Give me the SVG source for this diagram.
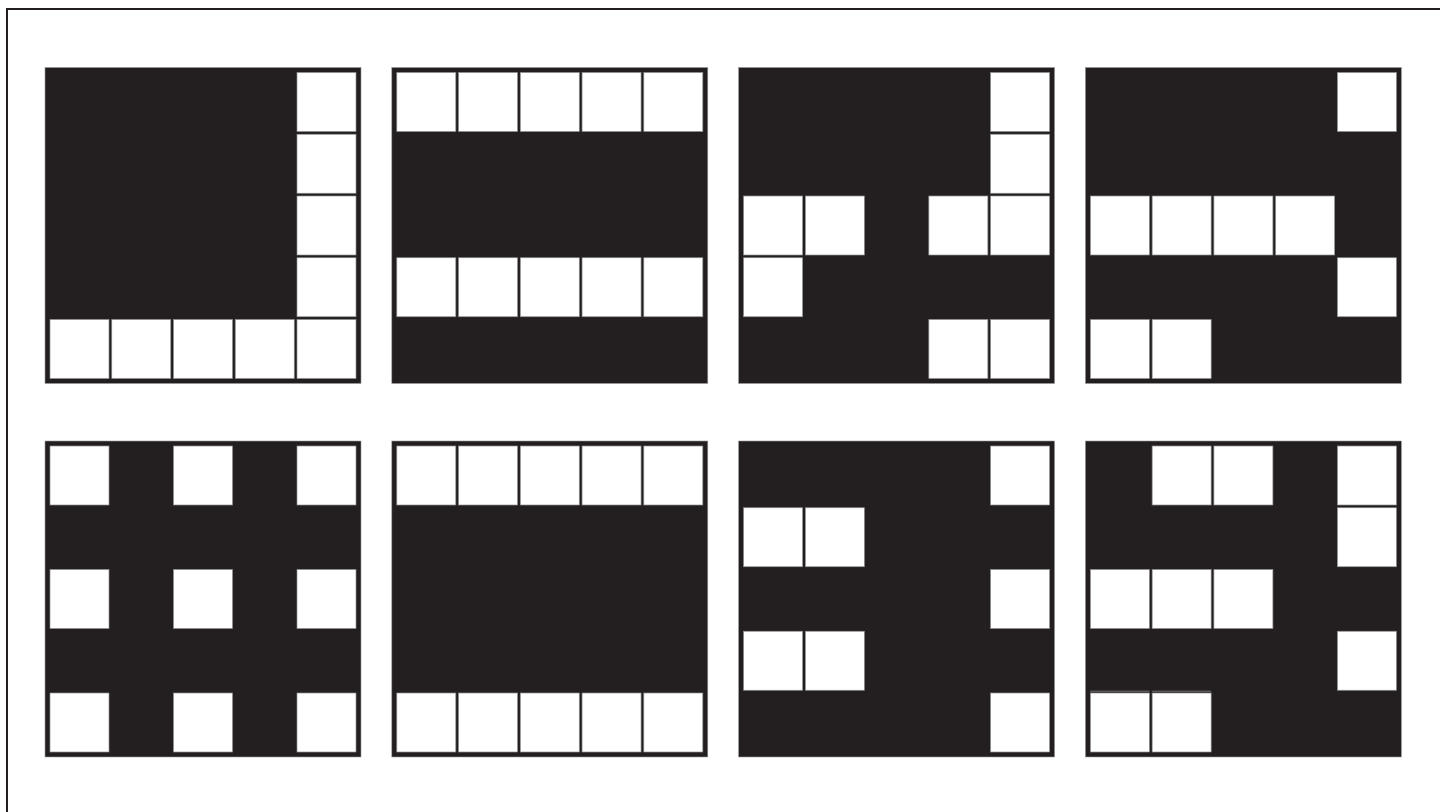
<svg xmlns="http://www.w3.org/2000/svg" width="1440" height="812" viewBox="0 0 1440 812">
<style>
.bg{fill:#231f20;stroke:#9a9a9a;stroke-width:0.6}
.c{fill:#ffffff;stroke:#8f8f8f;stroke-width:0.7}
.frame{fill:none;stroke:#231f20;stroke-width:2}
</style>
<defs>
<rect id="cell" class="c" width="59" height="59"/>
</defs>
<rect x="0" y="0" width="1440" height="812" fill="#ffffff"/>
<rect class="frame" x="7" y="9" width="1450" height="820"/>
<g id="panel1" transform="translate(45,67.5)">
<rect class="bg" width="316" height="316"/>
<use href="#cell" x="252" y="5"/><use href="#cell" x="252" y="66.75"/><use href="#cell" x="252" y="128.5"/><use href="#cell" x="252" y="190.25"/>
<use href="#cell" x="5" y="252"/><use href="#cell" x="66.75" y="252"/><use href="#cell" x="128.5" y="252"/><use href="#cell" x="190.25" y="252"/><use href="#cell" x="252" y="252"/>
</g>
<g id="panel2" transform="translate(391.8,67.5)">
<rect class="bg" width="316" height="316"/>
<use href="#cell" x="5" y="5"/><use href="#cell" x="66.75" y="5"/><use href="#cell" x="128.5" y="5"/><use href="#cell" x="190.25" y="5"/><use href="#cell" x="252" y="5"/>
<use href="#cell" x="5" y="190.25"/><use href="#cell" x="66.75" y="190.25"/><use href="#cell" x="128.5" y="190.25"/><use href="#cell" x="190.25" y="190.25"/><use href="#cell" x="252" y="190.25"/>
</g>
<g id="panel3" transform="translate(738.6,67.5)">
<rect class="bg" width="316" height="316"/>
<use href="#cell" x="252" y="5"/><use href="#cell" x="252" y="66.75"/>
<use href="#cell" x="5" y="128.5"/><use href="#cell" x="66.75" y="128.5"/><use href="#cell" x="190.25" y="128.5"/><use href="#cell" x="252" y="128.5"/>
<use href="#cell" x="5" y="190.25"/>
<use href="#cell" x="190.25" y="252"/><use href="#cell" x="252" y="252"/>
</g>
<g id="panel4" transform="translate(1085.4,67.5)">
<rect class="bg" width="316" height="316"/>
<use href="#cell" x="252" y="5"/>
<use href="#cell" x="5" y="128.5"/><use href="#cell" x="66.75" y="128.5"/><use href="#cell" x="128.5" y="128.5"/><use href="#cell" x="190.25" y="128.5"/>
<use href="#cell" x="252" y="190.25"/>
<use href="#cell" x="5" y="252"/><use href="#cell" x="66.75" y="252"/>
</g>
<g id="panel5" transform="translate(45,441)">
<rect class="bg" width="316" height="316"/>
<use href="#cell" x="5" y="5"/><use href="#cell" x="128.5" y="5"/><use href="#cell" x="252" y="5"/>
<use href="#cell" x="5" y="128.5"/><use href="#cell" x="128.5" y="128.5"/><use href="#cell" x="252" y="128.5"/>
<use href="#cell" x="5" y="252"/><use href="#cell" x="128.5" y="252"/><use href="#cell" x="252" y="252"/>
</g>
<g id="panel6" transform="translate(391.8,441)">
<rect class="bg" width="316" height="316"/>
<use href="#cell" x="5" y="5"/><use href="#cell" x="66.75" y="5"/><use href="#cell" x="128.5" y="5"/><use href="#cell" x="190.25" y="5"/><use href="#cell" x="252" y="5"/>
<use href="#cell" x="5" y="252"/><use href="#cell" x="66.75" y="252"/><use href="#cell" x="128.5" y="252"/><use href="#cell" x="190.25" y="252"/><use href="#cell" x="252" y="252"/>
</g>
<g id="panel7" transform="translate(738.6,441)">
<rect class="bg" width="316" height="316"/>
<use href="#cell" x="252" y="5"/>
<use href="#cell" x="5" y="66.75"/><use href="#cell" x="66.75" y="66.75"/>
<use href="#cell" x="252" y="128.5"/>
<use href="#cell" x="5" y="190.25"/><use href="#cell" x="66.75" y="190.25"/>
<use href="#cell" x="252" y="252"/>
</g>
<g id="panel8" transform="translate(1085.4,441)">
<rect class="bg" width="316" height="316"/>
<use href="#cell" x="66.75" y="5"/><use href="#cell" x="128.5" y="5"/><use href="#cell" x="252" y="5"/>
<use href="#cell" x="252" y="66.75"/>
<use href="#cell" x="5" y="128.5"/><use href="#cell" x="66.75" y="128.5"/><use href="#cell" x="128.5" y="128.5"/>
<use href="#cell" x="252" y="190.25"/>
<use href="#cell" x="5" y="252"/><use href="#cell" x="66.75" y="252"/>
<path d="M5 250.2H64M66.75 250.2H125.75" stroke="#8c8c8c" stroke-width="0.8" fill="none"/>
</g>
<g id="connectors"/>
</svg>
